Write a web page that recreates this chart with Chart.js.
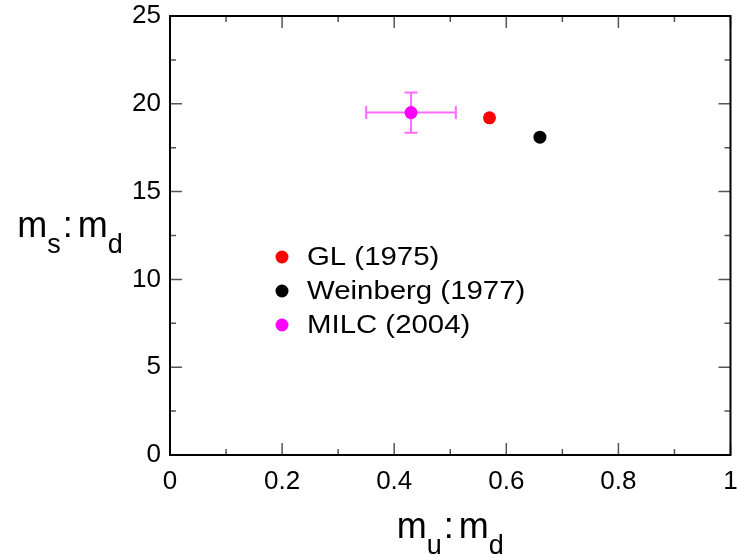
<!DOCTYPE html>
<html>
<head>
<meta charset="utf-8">
<script src="https://cdn.jsdelivr.net/npm/chart.js@4"></script>
<style>
  body { margin: 0; background: #fff; }
  #wrap { width: 737px; height: 554px; }
</style>
</head>
<body>
<div id="wrap"><canvas id="myChart" width="737" height="554"></canvas></div>
<script>
// data
const labels = ["GL (1975)", "Weinberg (1977)", "MILC (2004)"];
const muMd = [0.57, 0.66, 0.43];
const msMd = [19.2, 18.1, 19.5];
const muErr = [0, 0, 0.08];
const msErr = [0, 0, 1.15];
const colors = ["#ff0000", "#000000", "#ff00ff"];
const xTicks = [0, 0.2, 0.4, 0.6, 0.8, 1];
const yTicks = [0, 5, 10, 15, 20, 25];

const FONT = "'Liberation Sans', Arial, sans-serif";

const datasets = labels.map((name, i) => ({
    label: name,
    data: [{ x: muMd[i], y: msMd[i] }],
    backgroundColor: colors[i],
    borderColor: colors[i],
    pointRadius: 6.5,
    pointHoverRadius: 6.5,
    borderWidth: 0
}));

// error bars, drawn under the points
const errorBars = {
    id: "errorBars",
    beforeDatasetsDraw(chart) {
        const { ctx, scales: { x, y } } = chart;
        ctx.save();
        ctx.strokeStyle = "rgba(255, 80, 255, 0.85)";
        ctx.lineWidth = 2;
        for (let i = 0; i < labels.length; i++) {
            if (!muErr[i] && !msErr[i]) continue;
            const px = x.getPixelForValue(muMd[i]);
            const py = y.getPixelForValue(msMd[i]);
            const x1 = x.getPixelForValue(muMd[i] - muErr[i]);
            const x2 = x.getPixelForValue(muMd[i] + muErr[i]);
            const y1 = y.getPixelForValue(msMd[i] - msErr[i]);
            const y2 = y.getPixelForValue(msMd[i] + msErr[i]);
            const cap = 6.5;
            ctx.beginPath();
            ctx.moveTo(x1, py); ctx.lineTo(x2, py);
            ctx.moveTo(x1, py - cap); ctx.lineTo(x1, py + cap);
            ctx.moveTo(x2, py - cap); ctx.lineTo(x2, py + cap);
            ctx.moveTo(px, y1); ctx.lineTo(px, y2);
            ctx.moveTo(px - cap, y1); ctx.lineTo(px + cap, y1);
            ctx.moveTo(px - cap, y2); ctx.lineTo(px + cap, y2);
            ctx.stroke();
        }
        ctx.restore();
    }
};

// frame, inward ticks on all four sides, axis titles, legend
const decorations = {
    id: "decorations",
    afterDraw(chart) {
        const { ctx, chartArea: a, scales: { x, y } } = chart;
        ctx.save();

        // ticks
        ctx.strokeStyle = "#555";
        ctx.lineWidth = 1.5;
        ctx.beginPath();
        const xs = [];
        for (let i = 0; i < xTicks.length; i++) {
            xs.push([xTicks[i], 12]);
            if (i < xTicks.length - 1) xs.push([(xTicks[i] + xTicks[i + 1]) / 2, 6]);
        }
        for (const [v, len] of xs) {
            const px = x.getPixelForValue(v);
            ctx.moveTo(px, a.bottom); ctx.lineTo(px, a.bottom - len);
            ctx.moveTo(px, a.top); ctx.lineTo(px, a.top + len);
        }
        const ys = [];
        for (let i = 0; i < yTicks.length; i++) {
            ys.push([yTicks[i], 12]);
            if (i < yTicks.length - 1) ys.push([(yTicks[i] + yTicks[i + 1]) / 2, 6]);
        }
        for (const [v, len] of ys) {
            const py = y.getPixelForValue(v);
            ctx.moveTo(a.left, py); ctx.lineTo(a.left + len, py);
            ctx.moveTo(a.right, py); ctx.lineTo(a.right - len, py);
        }
        ctx.stroke();

        // frame
        ctx.strokeStyle = "#000";
        ctx.lineWidth = 2;
        ctx.strokeRect(a.left, a.top, a.right - a.left, a.bottom - a.top);

        // axis titles with subscripts (gap = extra space after the part)
        const big = "36px " + FONT;
        const small = "27px " + FONT;
        function title(parts, cx, baseline) {
            let w = 0;
            for (const p of parts) {
                ctx.font = p.sub ? small : big;
                w += ctx.measureText(p.t).width + (p.gap || 0);
            }
            let cur = cx - w / 2;
            ctx.fillStyle = "#000";
            ctx.textBaseline = "alphabetic";
            ctx.textAlign = "left";
            for (const p of parts) {
                ctx.font = p.sub ? small : big;
                ctx.fillText(p.t, cur, baseline + (p.sub ? 16 : 0));
                cur += ctx.measureText(p.t).width + (p.gap || 0);
            }
        }
        title([{ t: "m" }, { t: "s", sub: true, gap: 2 }, { t: ":", gap: 5 }, { t: "m" }, { t: "d", sub: true }], 70, 237);
        title([{ t: "m" }, { t: "u", sub: true, gap: 2 }, { t: ":", gap: 5 }, { t: "m" }, { t: "d", sub: true }], (a.left + a.right) / 2, 538);

        // legend
        ctx.font = "26px " + FONT;
        ctx.textBaseline = "middle";
        ctx.textAlign = "left";
        const lx = a.left + 112;
        const ly = a.top + 241;
        for (let i = 0; i < labels.length; i++) {
            const yy = ly + i * 34;
            ctx.fillStyle = colors[i];
            ctx.beginPath();
            ctx.arc(lx, yy, 6.5, 0, Math.PI * 2);
            ctx.fill();
            ctx.fillStyle = "#000";
            ctx.save();
            ctx.translate(lx + 25, yy + 1);
            ctx.scale(1.13, 1);
            ctx.fillText(labels[i], 0, 0);
            ctx.restore();
        }
        ctx.restore();
    }
};

const ctx = document.getElementById("myChart").getContext("2d");

const myChart = new Chart(ctx, {
    type: "scatter",
    data: { datasets },
    plugins: [errorBars, decorations],
    options: {
        responsive: false,
        animation: false,
        layout: { padding: { top: 16, right: 4, left: 0, bottom: 0 } },
        plugins: { legend: { display: false }, tooltip: { enabled: false } },
        scales: {
            x: {
                type: "linear",
                min: 0,
                max: 1,
                afterBuildTicks: (scale) => { scale.ticks = xTicks.map(v => ({ value: v })); },
                afterFit: (scale) => {
                    scale.height = 99;
                    scale.paddingLeft = 0;
                    scale.paddingRight = 0;
                },
                grid: { display: false, drawTicks: false },
                border: { display: false },
                ticks: {
                    padding: 11,
                    color: "#000",
                    font: { family: FONT, size: 26 },
                    maxRotation: 0,
                    callback: (v) => String(v)
                }
            },
            y: {
                type: "linear",
                min: 0,
                max: 25,
                afterBuildTicks: (scale) => { scale.ticks = yTicks.map(v => ({ value: v })); },
                afterFit: (scale) => {
                    scale.width = 170;
                    scale.paddingTop = 0;
                    scale.paddingBottom = 0;
                },
                grid: { display: false, drawTicks: false },
                border: { display: false },
                ticks: {
                    padding: 9,
                    color: "#000",
                    font: { family: FONT, size: 26 },
                    callback: (v) => String(v)
                }
            }
        }
    }
});
</script>
</body>
</html>
